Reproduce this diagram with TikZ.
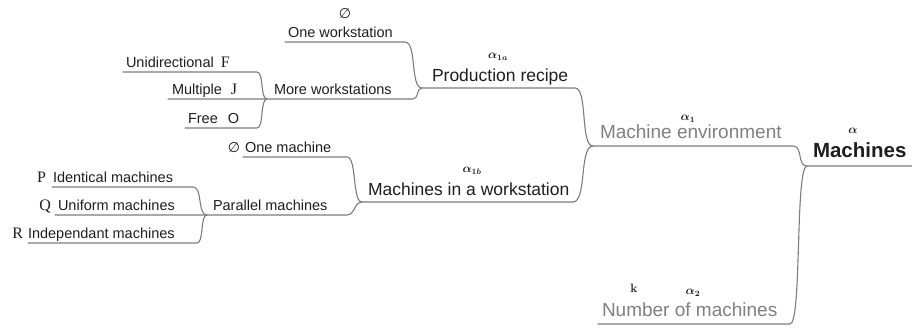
\documentclass[tikz,border=0pt]{standalone}
\usepackage{fontspec}
\newfontfamily\mmsans{Liberation Sans}
\newfontfamily\mmserif{Liberation Serif}
\newfontfamily\mmdeja{DejaVu Sans}
\definecolor{linec}{RGB}{125,125,125}
\definecolor{darktext}{RGB}{30,30,30}
\definecolor{graytext}{RGB}{128,128,128}
\newcommand\mmsym[1]{{\mmserif\fontsize{16}{17}\selectfont #1}}
\newcommand\mmempty{{\mmdeja\fontsize{14}{15}\selectfont ∅}}
\newcommand\ulbox[3]{\makebox[#1pt][l]{\hspace*{#2pt}#3}}
\newcommand\mmlink[4]{\draw[conn] (#1.south west) -- (#1.south east) .. controls ([xshift=#3pt]#1.south east) and ([xshift=-#4pt]#2.south west) .. (#2.south west);}
\begin{document}
\begin{tikzpicture}[x=1pt,y=-1pt,
  conn/.style={draw=linec, line width=1.1pt, line cap=round, line join=round},
  topic/.style={anchor=south west, inner xsep=0pt, outer sep=0pt, text depth=0pt, text=darktext, font=\mmsans},
  lvl0/.style={topic, font=\mmsans\bfseries\fontsize{20.5}{22}\selectfont, inner ysep=8.5pt},
  lvl1/.style={topic, text=graytext, font=\mmsans\fontsize{19}{21}\selectfont, inner ysep=7.5pt},
  lvl2/.style={topic, font=\mmsans\fontsize{17.5}{19}\selectfont, inner ysep=6.5pt},
  lvl3/.style={topic, font=\mmsans\fontsize{14.5}{16}\selectfont, inner ysep=5pt},
  tag/.style={inner sep=0pt, text=darktext, font=\fontsize{12}{13}\selectfont\boldmath},
]
\useasboundingbox (0,0) rectangle (912,327);
% topics
\node[lvl0] (root) at (807,166) {\ulbox{105}{6}{Machines}};
\node[lvl1] (me) at (593,146) {\ulbox{200}{7}{Machine environment}};
\node[lvl1] (nm) at (598,324) {\ulbox{192}{4}{Number of machines}};
\node[lvl2] (pr) at (422,88) {\ulbox{153}{10}{Production recipe}};
\node[lvl2] (mw) at (362,202) {\ulbox{211}{6}{Machines in a workstation}};
\node[lvl3] (ow) at (285,42) {\ulbox{120}{3}{One workstation}};
\node[lvl3] (mws) at (267,99) {\ulbox{146}{7}{More workstations}};
\node[lvl3] (uni) at (123,72) {\ulbox{134}{3}{Unidirectional\hspace{7pt}\mmsym{F}}};
\node[lvl3] (mul) at (168,99) {\ulbox{99}{4}{Multiple\hspace{9pt}\mmsym{J}}};
\node[lvl3] (free) at (185,128) {\ulbox{72}{3}{Free\hspace{10pt}O}};
\node[lvl3] (om) at (243,157) {\ulbox{104}{2}{\llap{\mmempty\hspace{5pt}}One machine}};
\node[lvl3] (par) at (207,215) {\ulbox{140}{6}{Parallel machines}};
\node[lvl3] (pp) at (52,187) {\ulbox{141}{1}{\llap{\mmsym{P}\hspace{7pt}}Identical machines}};
\node[lvl3] (qq) at (55,215) {\ulbox{152}{3}{\llap{\mmsym{Q}\hspace{7pt}}Uniform machines}};
\node[lvl3] (rr) at (28,243) {\ulbox{169}{0}{\llap{\mmsym{R}\hspace{5pt}}Independant machines}};
% tags
\node[tag] (t-root) at (853,131) {$\alpha$};
\node[tag] (t-me) at (688,119) {$\alpha_1$};
\node[tag] (t-pr) at (498,57) {$\alpha_{1a}$};
\node[tag] (t-mw) at (472,171) {$\alpha_{1b}$};
\node[tag] (t-nm) at (693,293) {$\alpha_2$};
\node[tag] (t-k) at (634,288) {\textbf{k}};
\node[inner sep=0pt, text=darktext] (t-ow) at (345,14) {\mmempty};
% connectors
\draw[conn] (me.south west) -- (me.south east) .. controls ([xshift=10pt]me.south east) and ([xshift=-10pt]root.south west) .. (root.south west) -- (root.south east);
\mmlink{nm}{root}{12}{12}
\mmlink{pr}{me}{13}{13}
\mmlink{mw}{me}{14}{14}
\mmlink{ow}{pr}{12}{12}
\draw[conn] (mul.south west) -- (mws.south west) -- (mws.south east) .. controls ([xshift=6pt]mws.south east) and ([xshift=-6pt]pr.south west) .. (pr.south west);
\mmlink{uni}{mws}{7}{7}
\mmlink{free}{mws}{7}{7}
\mmlink{om}{mw}{10}{10}
\draw[conn] (qq.south west) -- (par.south west) -- (par.south east) .. controls ([xshift=8pt]par.south east) and ([xshift=-8pt]mw.south west) .. (mw.south west);
\mmlink{pp}{par}{10}{10}
\mmlink{rr}{par}{7}{7}
\end{tikzpicture}
\end{document}
